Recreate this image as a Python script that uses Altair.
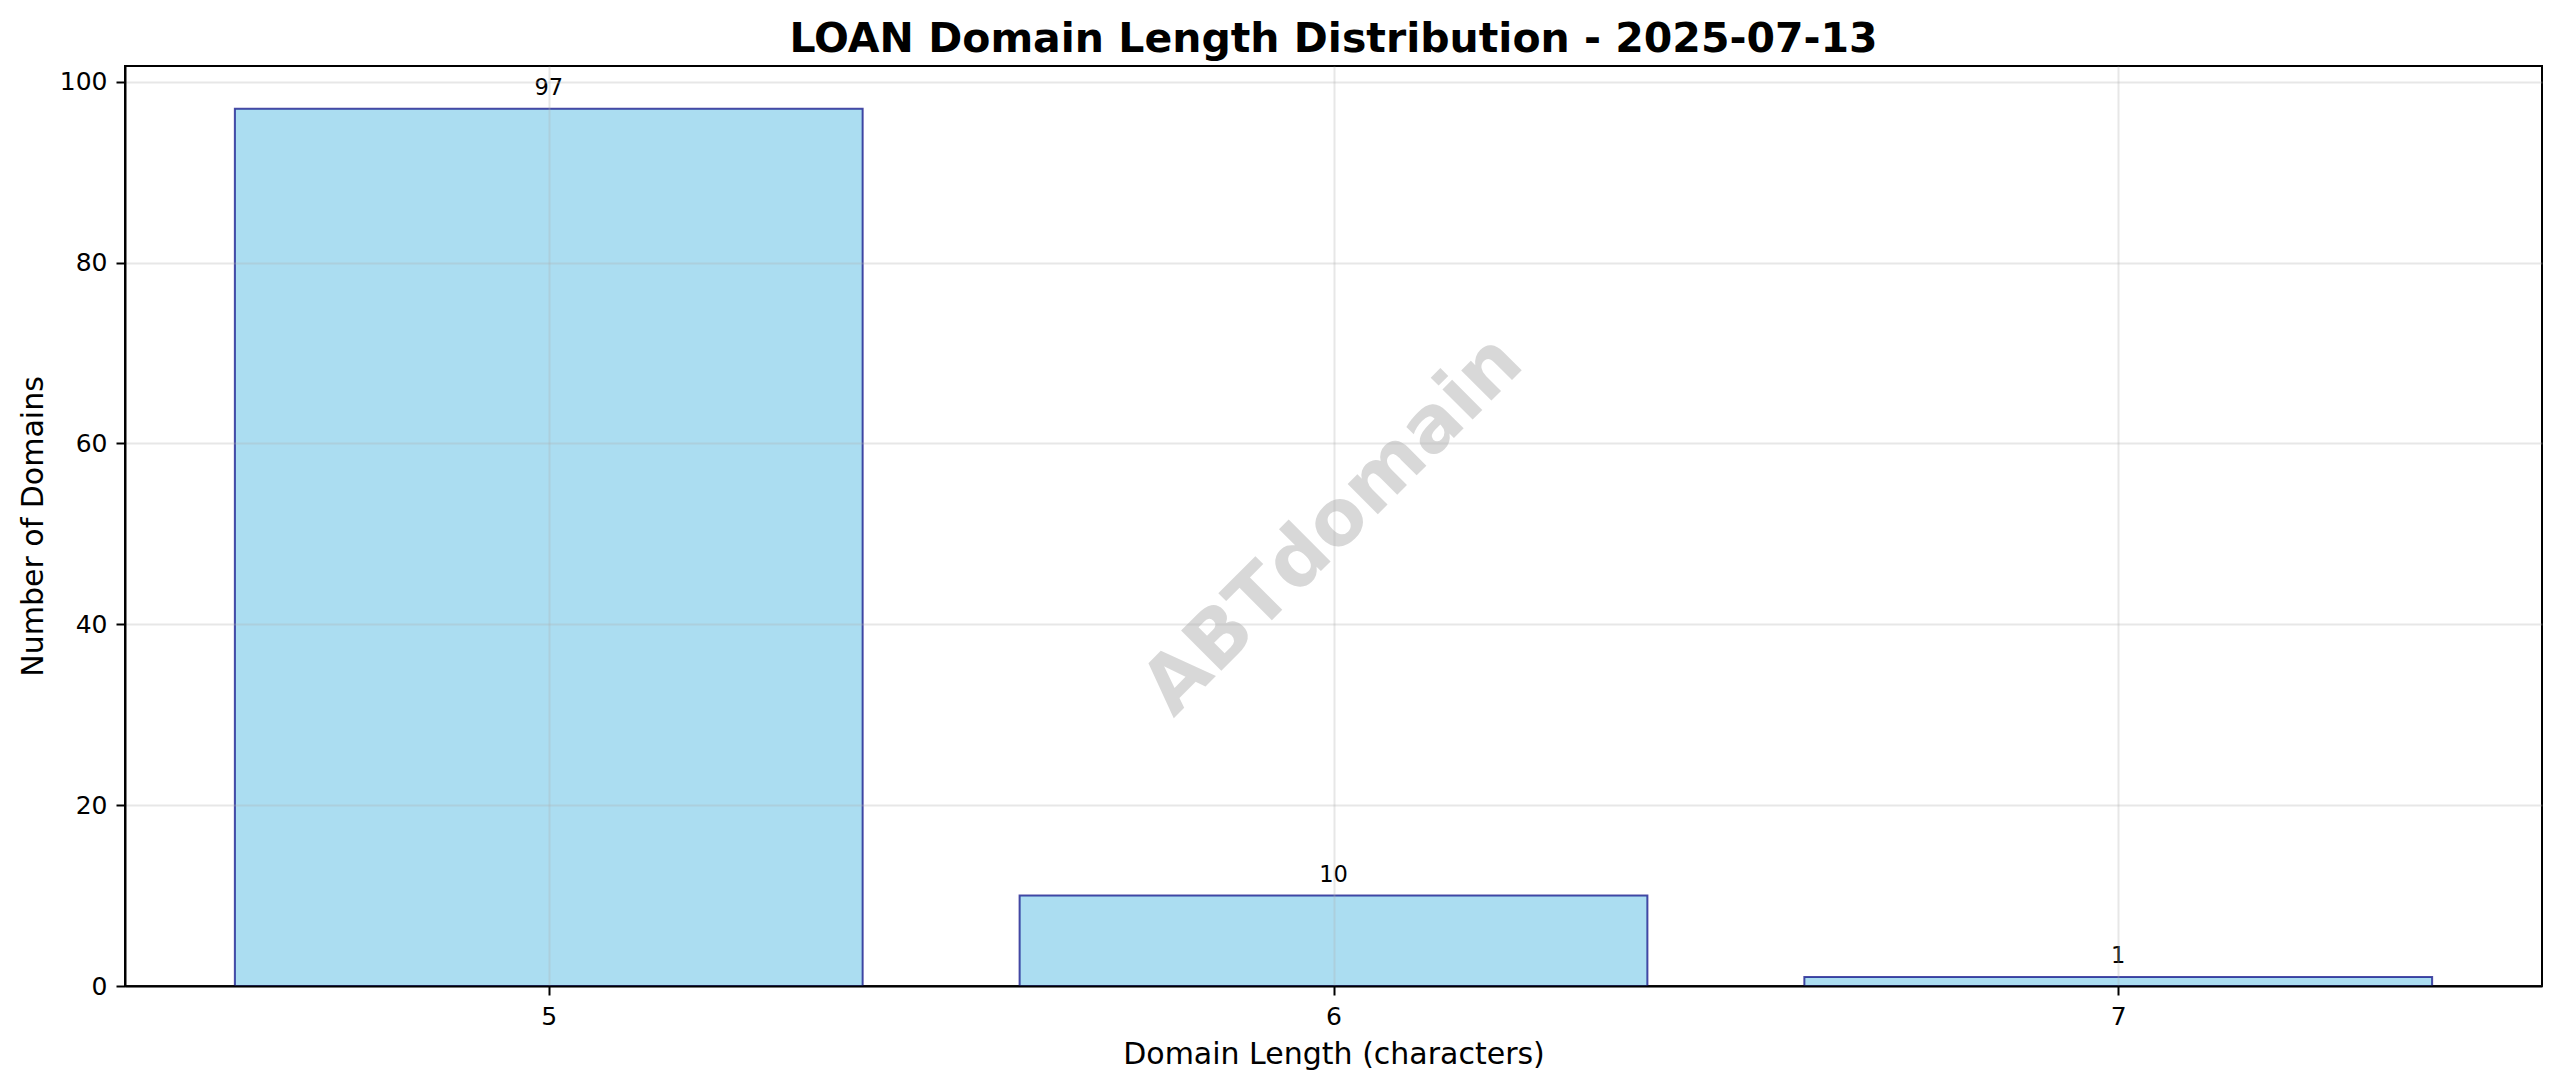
import altair as alt
import pandas as pd

# ---- data ----
lengths = [5, 6, 7]
counts = [97, 10, 1]
y_ticks = [0, 20, 40, 60, 80, 100]
title_text = "LOAN Domain Length Distribution - 2025-07-13"
x_title = "Domain Length (characters)"
y_title = "Number of Domains"
watermark = "ABTdomain"

df = pd.DataFrame({"length": lengths, "count": counts})
wm_df = pd.DataFrame({"t": [watermark]})
title_df = pd.DataFrame({"t": [title_text]})

W, H = 2417, 920
FONT = "DejaVu Sans"

xscale = alt.Scale(domain=[4.46, 7.54], nice=False, zero=False)
yscale = alt.Scale(domain=[0, 101.74], nice=False, zero=True)

common_axis = dict(
    domainColor="black", domainWidth=2,
    tickColor="black", tickWidth=2, tickSize=9,
    labelFont=FONT, labelFontSize=25, labelColor="black", labelPadding=9,
    labelFlush=False,
    titleFont=FONT, titleFontSize=30, titleFontWeight="normal", titleColor="black",
    grid=True, gridColor="#b0b0b0", gridOpacity=0.3, gridWidth=2,
    zindex=1,
)

x_axis = alt.Axis(values=lengths, format="d", title=x_title,
                  titleBaseline="alphabetic", titleX=W / 2, titleY=77,
                  titleAlign="center", **common_axis)
y_axis = alt.Axis(values=y_ticks, format="d", title=y_title,
                  titleAngle=270, titleBaseline="alphabetic",
                  titleX=-83, titleY=H / 2, titleAlign="center", **common_axis)

base = alt.Chart(df)

bars = base.transform_calculate(
    x0="datum.length - 0.4", x1="datum.length + 0.4"
).mark_bar(
    fill="#87CEEB", fillOpacity=0.7,
    stroke="navy", strokeOpacity=0.7, strokeWidth=2,
).encode(
    x=alt.X("x0:Q", scale=xscale, axis=x_axis),
    x2="x1:Q",
    y=alt.Y("count:Q", scale=yscale, axis=y_axis),
    y2=alt.datum(0),
)

labels = base.transform_calculate(
    ly="datum.count + 1"
).mark_text(
    font=FONT, fontSize=22.5, color="black", baseline="bottom", align="center"
).encode(
    x=alt.X("length:Q", scale=xscale, title=x_title),
    y=alt.Y("ly:Q", scale=yscale, title=y_title),
    text="count:Q",
)

wm = alt.Chart(wm_df).mark_text(
    font=FONT, fontSize=78, fontWeight="bold", angle=315,
    color="gray", opacity=0.3, align="center", baseline="middle",
).encode(
    x=alt.value(W / 2), y=alt.value(H / 2), text="t:N"
)

title = alt.Chart(title_df).mark_text(
    font=FONT, fontSize=41, fontWeight="bold", color="black",
    align="center", baseline="alphabetic",
).encode(
    x=alt.value(W / 2), y=alt.value(-14), text="t:N"
)

chart = alt.layer(bars, labels, wm, title).properties(
    width=W, height=H,
    autosize=alt.AutoSizeParams(type="none"),
    padding={"left": 117, "top": 58, "right": 10, "bottom": 90},
).configure(
    background="white"
).configure_view(
    stroke="black", strokeWidth=2
)

chart.save("out.html", embed_options={"renderer": "svg", "actions": False})
